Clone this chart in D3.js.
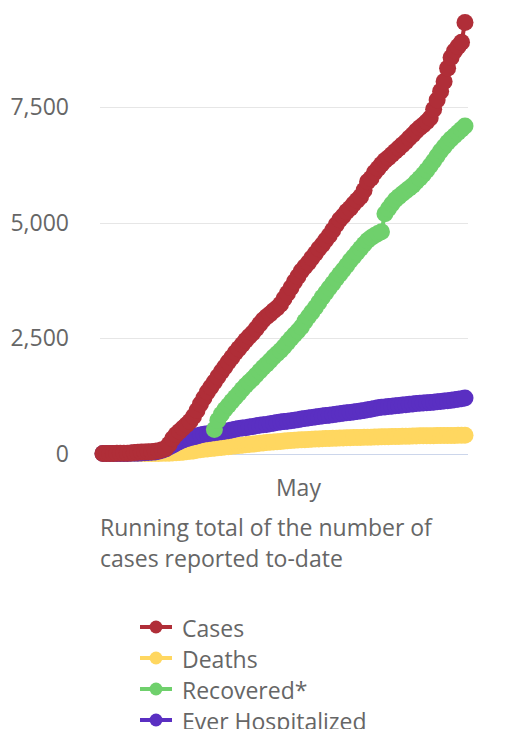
<!DOCTYPE html>
<html>
<head>
<meta charset="utf-8">
<script src="https://cdn.jsdelivr.net/npm/d3@7"></script>
<style>
  body { margin: 0; background: #fff; }
  text { font-family: "Open Sans", sans-serif; }
</style>
</head>
<body>
<script>
// daily totals, starting Mar 6
var startDay = new Date(2020, 2, 6);

var cases = [
  1, 1, 2, 2, 3, 3, 4, 7, 10, 19,
  25, 30, 33, 37, 40, 50, 60, 80, 110, 200,
  320, 410, 480, 550, 620, 700, 800, 930, 1070, 1200,
  1330, 1440, 1550, 1660, 1770, 1870, 1980, 2080, 2180, 2270,
  2360, 2450, 2530, 2610, 2700, 2800, 2890, 2960, 3020, 3090,
  3150, 3230, 3350, 3470, 3590, 3720, 3830, 3950, 4040, 4130,
  4230, 4330, 4430, 4520, 4620, 4720, 4830, 4950, 5060, 5140,
  5240, 5310, 5400, 5480, 5560, 5700, 5880, 5960, 6080, 6170,
  6260, 6340, 6400, 6470, 6540, 6610, 6680, 6750, 6830, 6900,
  6980, 7050, 7110, 7180, 7260, 7450, 7650, 7840, 8050, 8340,
  8570, 8710, 8810, 8900, 9330
];

var deaths = [
  0, 0, 0, 0, 0, 0, 0, 0, 0, 0,
  0, 1, 1, 1, 1, 2, 2, 3, 5, 7,
  10, 15, 20, 28, 36, 46, 56, 68, 80, 92,
  100, 108, 116, 124, 132, 140, 148, 156, 164, 172,
  180, 188, 196, 204, 212, 220, 228, 236, 243, 250,
  256, 262, 268, 274, 280, 285, 290, 295, 300, 304,
  308, 312, 316, 320, 323, 326, 329, 332, 335, 338,
  340, 342, 344, 346, 348, 350, 352, 354, 356, 358,
  360, 362, 364, 366, 368, 370, 372, 374, 376, 378,
  380, 382, 383, 384, 385, 386, 387, 388, 389, 390,
  391, 392, 393, 394, 395
];

// recovered reported from day 32 on
var recovered = [
  null, null, null, null, null, null, null, null, null, null,
  null, null, null, null, null, null, null, null, null, null,
  null, null, null, null, null, null, null, null, null, null,
  null, null, 520, 720, 850, 950, 1040, 1130, 1220, 1300,
  1390, 1470, 1550, 1620, 1700, 1780, 1860, 1930, 2010, 2090,
  2160, 2230, 2310, 2400, 2490, 2570, 2650, 2740, 2860, 2960,
  3060, 3160, 3270, 3380, 3480, 3580, 3680, 3780, 3880, 3970,
  4070, 4170, 4260, 4350, 4440, 4530, 4610, 4670, 4720, 4760,
  4800, 5190, 5300, 5400, 5490, 5560, 5620, 5680, 5740, 5800,
  5880, 5960, 6040, 6130, 6230, 6330, 6440, 6550, 6640, 6730,
  6810, 6880, 6950, 7020, 7090
];

var hospitalized = [
  0, 0, 0, 0, 0, 1, 1, 2, 3, 5,
  8, 12, 16, 20, 25, 35, 50, 70, 100, 140,
  180, 220, 260, 290, 320, 340, 360, 380, 400, 415,
  430, 440, 450, 460, 470, 480, 495, 510, 525, 540,
  550, 560, 575, 585, 600, 610, 620, 630, 645, 655,
  670, 680, 690, 700, 710, 720, 730, 745, 760, 770,
  780, 790, 800, 810, 820, 830, 840, 850, 860, 870,
  880, 890, 900, 910, 920, 930, 945, 960, 975, 990,
  1000, 1008, 1016, 1024, 1032, 1040, 1048, 1056, 1064, 1072,
  1080, 1086, 1092, 1098, 1104, 1110, 1118, 1126, 1134, 1142,
  1150, 1162, 1174, 1186, 1200
];

var yTicks = [0, 2500, 5000, 7500];
var monthTicks = [new Date(2020, 4, 1)];
var seriesNames = ["Cases", "Deaths", "Recovered*", "Ever Hospitalized"];
var seriesColors = ["#b02e38", "#ffd760", "#6fd06c", "#5a2fc2"];

var width = 507, height = 729;
var days = cases.map(function(d, i) { return d3.timeDay.offset(startDay, i); });

var series = [
  { name: seriesNames[1], color: seriesColors[1], values: deaths },
  { name: seriesNames[3], color: seriesColors[3], values: hospitalized },
  { name: seriesNames[2], color: seriesColors[2], values: recovered },
  { name: seriesNames[0], color: seriesColors[0], values: cases }
];

var svg = d3.select("body").append("svg")
  .attr("width", width)
  .attr("height", height);

var x = d3.scaleTime()
  .domain([days[0], days[days.length - 1]])
  .range([103, 465]);

var y = d3.scaleLinear()
  .domain([0, 7500])
  .range([453.5, 107]);

// grid
svg.append("g").selectAll("line")
  .data(yTicks.filter(function(t) { return t > 0; }))
  .enter().append("line")
  .attr("x1", 100).attr("x2", 468)
  .attr("y1", function(d) { return Math.round(y(d)) + 0.5; })
  .attr("y2", function(d) { return Math.round(y(d)) + 0.5; })
  .attr("stroke", "#e6e6e6")
  .attr("stroke-width", 1);

// y labels
svg.append("g").selectAll("text")
  .data(yTicks)
  .enter().append("text")
  .attr("x", 69)
  .attr("y", function(d) { return y(d) + 8; })
  .attr("text-anchor", "end")
  .attr("font-size", "23px")
  .attr("fill", "#666")
  .text(d3.format(","));

// x axis
var xAxis = d3.axisBottom(x)
  .tickValues(monthTicks)
  .tickFormat(d3.timeFormat("%B"))
  .tickSize(0)
  .tickPadding(0);

var gx = svg.append("g")
  .attr("transform", "translate(0," + (Math.round(y(0)) + 0.5) + ")")
  .call(xAxis);
gx.select(".domain").remove();
gx.append("line")
  .attr("x1", 100).attr("x2", 468)
  .attr("stroke", "#ccd6eb")
  .attr("stroke-width", 1);
gx.selectAll(".tick text")
  .attr("dy", null)
  .attr("y", 41)
  .attr("font-size", "23px")
  .attr("font-family", "Open Sans, sans-serif")
  .attr("fill", "#666");

// series
var line = d3.line()
  .defined(function(d) { return d != null; })
  .x(function(d, i) { return x(days[i]); })
  .y(function(d) { return y(d); });

series.forEach(function(s) {
  var g = svg.append("g");
  g.append("path")
    .attr("d", line(s.values))
    .attr("fill", "none")
    .attr("stroke", s.color)
    .attr("stroke-width", 4)
    .attr("stroke-linejoin", "round");
  g.selectAll("circle")
    .data(s.values.map(function(v, i) { return { v: v, i: i }; })
      .filter(function(d) { return d.v != null; }))
    .enter().append("circle")
    .attr("cx", function(d) { return x(days[d.i]); })
    .attr("cy", function(d) { return y(d.v); })
    .attr("r", 8.5)
    .attr("fill", s.color);
});

// subtitle
svg.append("text")
  .attr("x", 100)
  .attr("font-size", "23px")
  .attr("fill", "#666")
  .selectAll("tspan")
  .data(["Running total of the number of", "cases reported to-date"])
  .enter().append("tspan")
  .attr("x", 100)
  .attr("y", function(d, i) { return 536 + i * 31; })
  .text(function(d) { return d; });

// legend (last row runs off the bottom edge, as in the source)
var legend = svg.append("g").selectAll("g")
  .data(seriesNames)
  .enter().append("g")
  .attr("transform", function(d, i) { return "translate(0," + (627 + i * 31) + ")"; });

legend.append("line")
  .attr("x1", 140).attr("x2", 172)
  .attr("stroke", function(d, i) { return seriesColors[i]; })
  .attr("stroke-width", 4);
legend.append("circle")
  .attr("cx", 156)
  .attr("r", 6.5)
  .attr("fill", function(d, i) { return seriesColors[i]; });
legend.append("text")
  .attr("x", 182)
  .attr("y", 9.5)
  .attr("font-size", "23px")
  .attr("fill", "#666")
  .text(function(d) { return d; });
</script>
</body>
</html>
